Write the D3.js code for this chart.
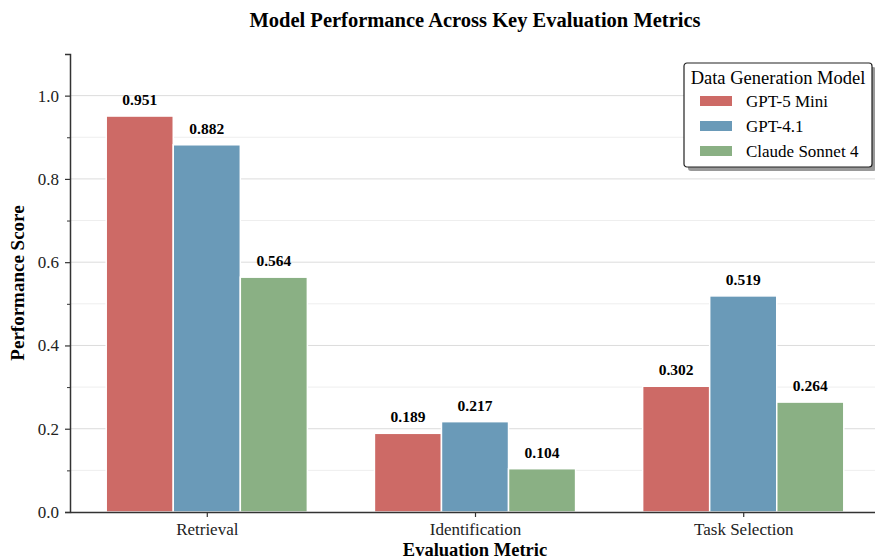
<!DOCTYPE html>
<html><head><meta charset="utf-8">
<script src="https://cdn.jsdelivr.net/npm/d3@7"></script>
<style>body{margin:0;background:#fff}svg{font-family:"Liberation Serif","DejaVu Serif",serif}</style>
</head><body>
<svg id="chart" width="875" height="560"></svg>
<script>
// data
const metrics=["Retrieval","Identification","Task Selection"];
const models=["GPT-5 Mini","GPT-4.1","Claude Sonnet 4"];
const gpt5mini=[0.951,0.189,0.302];
const gpt41=[0.882,0.217,0.519];
const claude=[0.564,0.104,0.264];
const yTicks=[0,0.2,0.4,0.6,0.8,1.0];
const colors=["#cd6a66","#6a9ab8","#8ab084"];

const series=[gpt5mini,gpt41,claude];
const svg=d3.select("#chart");
const L=70,B=512,T=54,R=880;

// positional x, like matplotlib: categories at 0,1,2
const x=d3.scaleLinear().domain([-0.51,2.51]).range([L,R]);
const y=d3.scaleLinear().domain([0,1.1]).range([B,T]);
const w=0.25;

// grid
svg.append("g").selectAll("line").data(d3.range(1,11).map(i=>i/10))
 .enter().append("line")
 .attr("x1",L).attr("x2",R)
 .attr("y1",d=>y(d)).attr("y2",d=>y(d))
 .attr("stroke",(d,i)=>i%2==1?"#dcdcdc":"#eeeeee").attr("stroke-width",1);

// bars
series.forEach((vals,s)=>{
 svg.append("g").selectAll("rect").data(vals).enter().append("rect")
  .attr("x",(d,i)=>x(i+(s-1)*w-w/2))
  .attr("width",x(w)-x(0))
  .attr("y",d=>y(d)).attr("height",d=>B-y(d))
  .attr("fill",colors[s]).attr("stroke","#fff").attr("stroke-width",1.5);
 svg.append("g").selectAll("text").data(vals).enter().append("text")
  .attr("x",(d,i)=>x(i+(s-1)*w)).attr("y",d=>y(d)-11)
  .attr("text-anchor","middle").attr("font-size",15.5).attr("font-weight","bold")
  .text(d=>d.toFixed(3));
});

// axes
const yAxis=svg.append("g").attr("transform",`translate(${L},0)`)
 .call(d3.axisLeft(y).tickValues(yTicks).tickFormat(d3.format(".1f")).tickSize(5).tickPadding(6));
yAxis.selectAll("text").attr("font-size",17).attr("font-family","Liberation Serif").attr("fill","#222");
yAxis.select(".domain").attr("stroke","#333").attr("stroke-width",1.5);
yAxis.selectAll(".tick line").attr("stroke","#333").attr("stroke-width",1.2);
svg.append("g").attr("transform",`translate(${L},0)`)
 .call(d3.axisLeft(y).tickValues(d3.range(1,11,2).map(i=>i/10)).tickFormat("").tickSize(3))
 .call(g=>g.select(".domain").remove())
 .selectAll("line").attr("stroke","#333");

const xAxis=svg.append("g").attr("transform",`translate(0,${B})`)
 .call(d3.axisBottom(x).tickValues([0,1,2]).tickFormat(i=>metrics[i]).tickSize(5).tickPadding(6).tickSizeOuter(0));
xAxis.selectAll("text").attr("font-size",17).attr("font-family","Liberation Serif").attr("fill","#222");
xAxis.select(".domain").attr("stroke","#333").attr("stroke-width",1.5);
xAxis.selectAll(".tick line").attr("stroke","#333").attr("stroke-width",1.2);

// titles
svg.append("text").attr("x",475).attr("y",27).attr("text-anchor","middle")
 .attr("font-size",20.5).attr("font-weight","bold").text("Model Performance Across Key Evaluation Metrics");
svg.append("text").attr("x",475).attr("y",556).attr("text-anchor","middle")
 .attr("font-size",18.5).attr("font-weight","bold").text("Evaluation Metric");
svg.append("text").attr("transform",`translate(24,${y(0.55)}) rotate(-90)`).attr("text-anchor","middle")
 .attr("font-size",19).attr("font-weight","bold").text("Performance Score");

// legend
const lg=svg.append("g").attr("transform","translate(684,63)");
lg.append("rect").attr("x",4).attr("y",4).attr("width",188).attr("height",104).attr("rx",3).attr("fill","#999");
lg.append("rect").attr("width",188).attr("height",104).attr("rx",3).attr("fill","#fff").attr("stroke","#222").attr("stroke-width",1.2);
lg.append("text").attr("x",94).attr("y",21).attr("text-anchor","middle").attr("font-size",18.5).text("Data Generation Model");
models.forEach((m,i)=>{
 lg.append("rect").attr("x",16).attr("y",33+i*25).attr("width",32).attr("height",10).attr("fill",colors[i]);
 lg.append("text").attr("x",62).attr("y",44+i*25).attr("font-size",17).text(m);
});
</script>
</body></html>
